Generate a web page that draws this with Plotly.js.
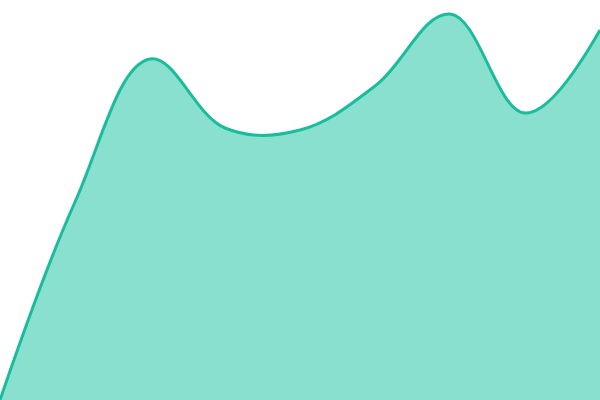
<!DOCTYPE html>
<html><head><meta charset="utf-8">
<script src="https://cdn.plot.ly/plotly-3.0.1.min.js"></script>
<style>html,body{margin:0;padding:0;background:#fff}#chart{width:600px;height:400px}</style>
</head><body><div id="chart"></div>
<script>
const xValues = [0, 1, 2, 3, 4, 5, 6, 7, 8];
const yValues = [0, 198, 341, 272, 270, 314, 386, 287, 370];

Plotly.newPlot('chart', [{
  x: xValues, y: yValues, type: 'scatter', mode: 'lines',
  fill: 'tozeroy', fillcolor: '#8ae0cf',
  line: {color: '#1abc9c', width: 3, shape: 'spline', smoothing: 1.1}
}], {
  width: 600, height: 400, margin: {l:0, r:0, t:0, b:0},
  paper_bgcolor: '#fff', plot_bgcolor: '#fff', showlegend: false,
  xaxis: {range: [0, 8], visible: false, fixedrange: true},
  yaxis: {range: [0, 400], visible: false, fixedrange: true}
}, {staticPlot: true, displayModeBar: false});
</script></body></html>
